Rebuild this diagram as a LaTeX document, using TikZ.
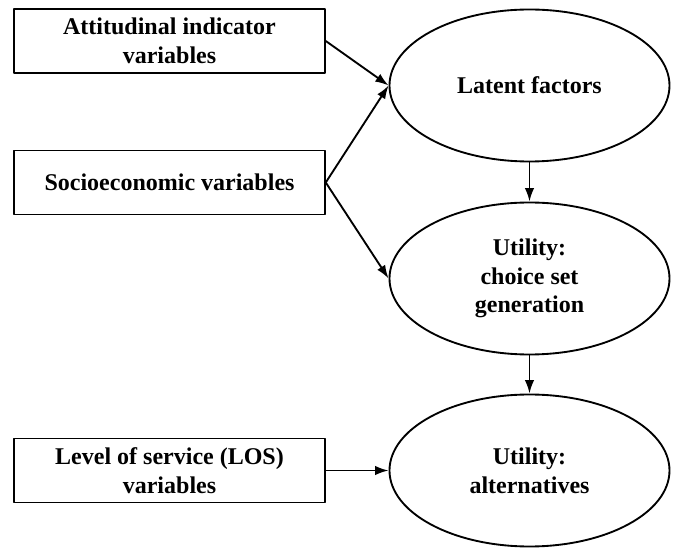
\documentclass[tikz,border=0pt]{standalone}
\usepackage{fontspec}
\setmainfont{Liberation Serif}
\usetikzlibrary{arrows.meta,shapes.geometric}
\tikzset{
	varbox/.style={draw,line width=1.4pt,minimum width=233pt,minimum height=48pt,align=center,inner sep=2pt},
	latent/.style={draw,ellipse,line width=1.4pt,minimum width=210pt,minimum height=114pt,align=center,inner sep=0pt}
}
\begin{document}
\begin{tikzpicture}[x=0.75pt,y=-0.75pt,>={Latex[length=10pt,width=7pt]},line join=round,font=\fontsize{18}{21.6}\selectfont\bfseries]
	\useasboundingbox (0,0) rectangle (676,549);
	% variables on the left
	\node[varbox] (att) at (169.5,41) {Attitudinal indicator\\variables};
	\node[varbox] (soc) at (169.5,182.5) {Socioeconomic variables};
	\node[varbox] (los) at (169.5,470.5) {Level of service (LOS)\\variables};
	% ellipses on the right
	\node[latent] (lat) at (529.5,85.5) {Latent factors};
	\node[latent] (csg) at (529.5,278.5) {Utility:\\choice set\\generation};
	\node[latent] (alt) at (529.5,470.5) {Utility:\\alternatives};
	\foreach \a/\b in {att.east/lat.west,soc.east/lat.west,soc.east/csg.west,los.east/alt.west,lat.south/csg.north,csg.south/alt.north}{
		\draw[->,line width=1.4pt] (\a)--(\b);}
\end{tikzpicture}
\end{document}
